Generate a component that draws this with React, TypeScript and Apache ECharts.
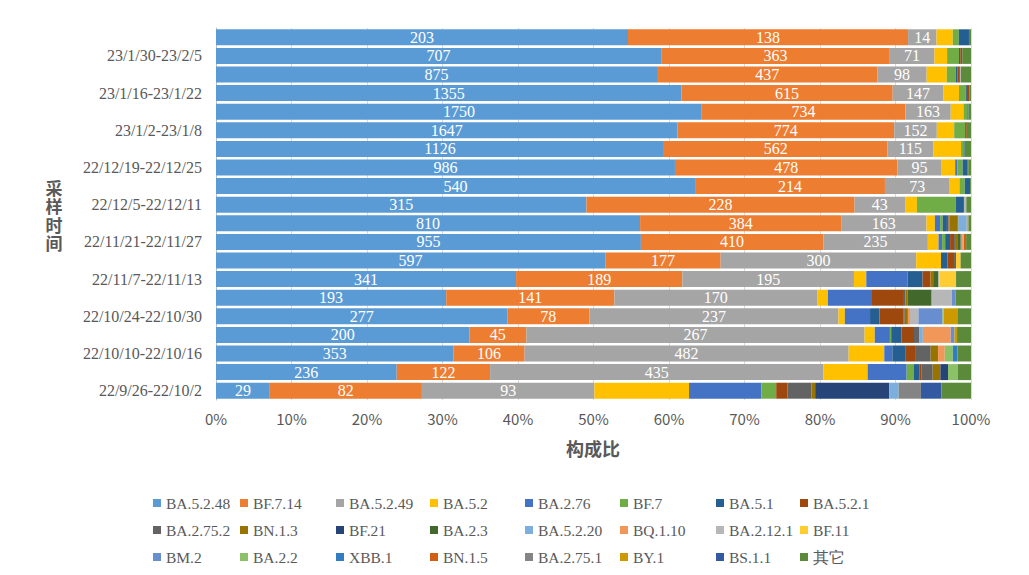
import React, { useEffect, useRef } from "react";
import * as echarts from "echarts";

const categories = [
  "22/9/26-22/10/2", "22/10/3-22/10/9", "22/10/10-22/10/16", "22/10/17-22/10/23",
  "22/10/24-22/10/30", "22/10/31-22/11/6", "22/11/7-22/11/13", "22/11/14-22/11/20",
  "22/11/21-22/11/27", "22/11/28-22/12/4", "22/12/5-22/12/11", "22/12/12-22/12/18",
  "22/12/19-22/12/25", "22/12/26-23/1/1", "23/1/2-23/1/8", "23/1/9-23/1/15",
  "23/1/16-23/1/22", "23/1/23-23/1/29", "23/1/30-23/2/5", "23/2/6-23/2/12",
];

const seriesNames = [
  "BA.5.2.48", "BF.7.14", "BA.5.2.49", "BA.5.2", "BA.2.76", "BF.7", "BA.5.1", "BA.5.2.1",
  "BA.2.75.2", "BN.1.3", "BF.21", "BA.2.3", "BA.5.2.20", "BQ.1.10", "BA.2.12.1", "BF.11",
  "BM.2", "BA.2.2", "XBB.1", "BN.1.5", "BA.2.75.1", "BY.1", "BS.1.1", "其它",
];

const colors = [
  "#5B9BD5", "#ED7D31", "#A5A5A5", "#FFC000", "#4472C4", "#70AD47", "#255E91", "#9E480E",
  "#636363", "#997300", "#264478", "#43682B", "#7CAFDD", "#F1975A", "#B7B7B7", "#FFCD33",
  "#698ED0", "#8CC168", "#327DC2", "#D26012", "#848484", "#CC9A00", "#335AA1", "#5B8A3A",
];

// counts per week, bottom row (22/9/26) first
const BA_5_2_48 = [29, 236, 353, 200, 277, 193, 341, 597, 955, 810, 315, 540, 986, 1126, 1647, 1750, 1355, 875, 707, 203];
const BF_7_14 = [82, 122, 106, 45, 78, 141, 189, 177, 410, 384, 228, 214, 478, 562, 774, 734, 615, 437, 363, 138];
const BA_5_2_49 = [93, 435, 482, 267, 237, 170, 195, 300, 235, 163, 43, 73, 95, 115, 152, 163, 147, 98, 71, 14];
const BA_5_2 = [51, 58, 53, 8, 6, 9, 14, 38, 24, 16, 10, 11, 29, 70, 62, 46, 46, 40, 20, 8];
const BA_2_76 = [39, 51, 12, 12, 24, 37, 47, 0, 8, 10, 0, 0, 5, 0, 0, 0, 0, 0, 0, 0];
const BF_7 = [8, 9, 0, 1, 0, 0, 0, 0, 7, 5, 33, 6, 11, 6, 39, 14, 20, 18, 19, 3];
const BA_5_1 = [0, 8, 20, 8, 9, 0, 17, 10, 11, 8, 7, 6, 10, 3, 3, 4, 3, 3, 2, 5];
const BA_5_2_1 = [6, 2, 15, 10, 23, 26, 9, 10, 9, 3, 0, 0, 2, 0, 3, 0, 8, 5, 3, 0];
const BA_2_75_2 = [13, 15, 22, 4, 1, 2, 0, 3, 4, 2, 0, 0, 0, 0, 0, 0, 0, 0, 0, 0];
const BN_1_3 = [2, 10, 10, 0, 3, 2, 3, 0, 3, 15, 0, 0, 0, 0, 0, 0, 0, 0, 0, 0];
const BF_21 = [40, 10, 1, 0, 0, 0, 0, 0, 0, 0, 0, 0, 0, 0, 0, 0, 0, 0, 0, 0];
const BA_2_3 = [0, 0, 0, 0, 0, 20, 6, 0, 8, 2, 0, 0, 0, 0, 0, 0, 0, 0, 0, 0];
const BA_5_2_20 = [5, 0, 0, 3, 0, 0, 0, 0, 3, 16, 0, 0, 0, 0, 0, 0, 0, 0, 0, 0];
const BQ_1_10 = [0, 0, 10, 22, 2, 0, 0, 0, 2, 3, 0, 0, 0, 0, 0, 0, 0, 0, 0, 0];
const BA_2_12_1 = [0, 0, 0, 0, 8, 17, 1, 0, 2, 0, 2, 0, 0, 0, 0, 0, 0, 2, 0, 0];
const BF_11 = [0, 0, 0, 0, 0, 0, 19, 7, 0, 0, 0, 0, 0, 0, 0, 0, 0, 0, 0, 0];
const BM_2 = [0, 0, 0, 3, 23, 3, 0, 0, 0, 0, 0, 0, 0, 0, 0, 0, 0, 0, 0, 0];
const BA_2_2 = [0, 13, 12, 0, 1, 0, 0, 0, 0, 0, 0, 0, 0, 0, 0, 0, 0, 0, 0, 0];
const XBB_1 = [0, 0, 7, 0, 0, 0, 0, 0, 0, 0, 0, 0, 0, 0, 0, 0, 0, 0, 0, 0];
const BN_1_5 = [0, 0, 0, 0, 0, 0, 0, 0, 5, 0, 0, 0, 0, 0, 0, 0, 0, 0, 0, 0];
const BA_2_75_1 = [12, 0, 0, 0, 0, 0, 0, 0, 0, 0, 0, 0, 0, 0, 0, 0, 0, 0, 0, 0];
const BY_1 = [0, 0, 0, 2, 13, 0, 0, 0, 0, 0, 0, 0, 0, 0, 0, 0, 0, 0, 0, 0];
const BS_1_1 = [11, 0, 0, 0, 0, 0, 0, 0, 0, 0, 0, 0, 0, 0, 0, 0, 0, 0, 0, 0];
const OTHERS = [16, 17, 20, 11, 13, 13, 17, 16, 11, 5, 4, 1, 6, 16, 15, 9, 4, 20, 14, 1];

const seriesValues = [
  BA_5_2_48, BF_7_14, BA_5_2_49, BA_5_2, BA_2_76, BF_7, BA_5_1, BA_5_2_1,
  BA_2_75_2, BN_1_3, BF_21, BA_2_3, BA_5_2_20, BQ_1_10, BA_2_12_1, BF_11,
  BM_2, BA_2_2, XBB_1, BN_1_5, BA_2_75_1, BY_1, BS_1_1, OTHERS,
];

const xTicks = [0, 10, 20, 30, 40, 50, 60, 70, 80, 90, 100];
const legendColumnLefts = [148, 235, 331, 425, 520, 615, 711, 795];
const yTitleChars = ["采", "样", "时", "间"];

export default function App() {
  const ref = useRef<HTMLDivElement>(null);
  useEffect(() => {
    document.body.style.margin = "0";
    const chart = echarts.init(ref.current as HTMLDivElement, null, { renderer: "svg" });
    const totals = categories.map((_, r) =>
      seriesValues.reduce((s, arr) => s + arr[r], 0)
    );
    const series = seriesNames.map((name, i) => ({
      name,
      type: "bar",
      stack: "total",
      barCategoryGap: "14%",
      itemStyle: { color: colors[i] },
      emphasis: { disabled: true },
      label:
        i < 3
          ? {
              show: true,
              position: "inside",
              color: "#ffffff",
              fontFamily: "Liberation Serif",
              fontSize: 16,
              formatter: (p: any) => {
                const v = seriesValues[i][p.dataIndex];
                return v ? String(v) : "";
              },
            }
          : { show: false },
      data: seriesValues[i].map((v, r) => (v / totals[r]) * 100),
    }));

    const legends = legendColumnLefts.map((left, c) => ({
      orient: "vertical",
      left,
      top: 489,
      itemWidth: 8,
      itemHeight: 8,
      itemGap: 9,
      icon: "rect",
      selectedMode: false,
      textStyle: {
        color: "#595959",
        fontFamily: "Liberation Serif",
        fontSize: 15.5,
        lineHeight: 18,
      },
      data: [seriesNames[c], seriesNames[c + 8], seriesNames[c + 16]].filter(Boolean),
    }));

    const yTitle = yTitleChars.map((ch, k) => ({
      type: "text",
      x: 54,
      y: 187 + k * 18.5,
      style: {
        text: ch,
        fill: "#595959",
        font: "bold 17px 'Noto Sans CJK SC'",
        textAlign: "center",
        textVerticalAlign: "middle",
      },
    }));

    chart.setOption({
      animation: false,
      backgroundColor: "#ffffff",
      grid: { left: 216, right: 58, top: 28, bottom: 175, containLabel: false },
      legend: legends,
      xAxis: {
        type: "value",
        min: xTicks[0],
        max: xTicks[xTicks.length - 1],
        interval: 10,
        axisLine: { show: false },
        axisTick: { show: false },
        splitLine: { lineStyle: { color: "#D9D9D9", width: 1 } },
        axisLabel: {
          color: "#595959",
          fontSize: 15,
          fontFamily: "Noto Sans CJK SC",
          margin: 11,
          formatter: "{value}%",
        },
      },
      yAxis: {
        type: "category",
        data: categories,
        axisLine: { show: true, lineStyle: { color: "#BFBFBF" } },
        axisTick: { show: false },
        axisLabel: {
          interval: 1,
          color: "#595959",
          fontSize: 16,
          fontFamily: "Liberation Serif",
          margin: 14,
        },
      },
      graphic: [
        {
          type: "text",
          x: 593,
          y: 448,
          style: {
            text: "构成比",
            fill: "#595959",
            font: "bold 18px 'Noto Sans CJK SC'",
            textAlign: "center",
            textVerticalAlign: "middle",
          },
        },
        ...yTitle,
      ],
      series,
    });
    return () => chart.dispose();
  }, []);
  return <div ref={ref} style={{ width: 1029, height: 575 }} />;
}
